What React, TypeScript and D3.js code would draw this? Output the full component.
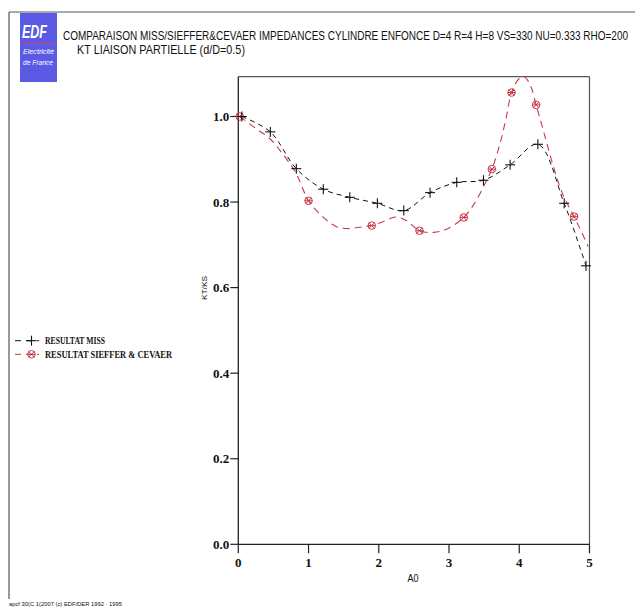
import React from 'react';
import * as d3 from 'd3';

// RESULTAT MISS (markers at every point)
const missA0 = [0.05, 0.456, 0.826, 1.21, 1.587, 1.98, 2.356, 2.73, 3.11, 3.49, 3.87, 4.265, 4.64, 4.95];
const missKT = [1.0, 0.964, 0.878, 0.83, 0.811, 0.797, 0.78, 0.822, 0.846, 0.851, 0.887, 0.935, 0.797, 0.651];

// RESULTAT SIEFFER & CEVAER (curve read densely)
const sieffA0 = [0.02, 0.25, 0.45, 0.62, 0.82, 1.0, 1.2, 1.39, 1.55, 1.72, 1.9, 2.06, 2.24, 2.39, 2.58, 2.78, 2.97, 3.21, 3.37, 3.51, 3.61, 3.73, 3.82, 3.89, 3.99, 4.07, 4.16, 4.24, 4.35, 4.47, 4.61, 4.78, 4.89, 4.98];
const sieffKT = [1.0, 0.972, 0.948, 0.915, 0.868, 0.803, 0.766, 0.743, 0.738, 0.741, 0.745, 0.754, 0.765, 0.757, 0.733, 0.729, 0.737, 0.764, 0.799, 0.842, 0.877, 0.939, 1.002, 1.056, 1.087, 1.093, 1.072, 1.027, 0.963, 0.892, 0.822, 0.766, 0.729, 0.696];
// marker positions on the SIEFFER & CEVAER curve
const sieffMarkA0 = [0.02, 1.0, 1.9, 2.58, 3.21, 3.61, 3.89, 4.24, 4.78];
const sieffMarkKT = [1.0, 0.803, 0.745, 0.733, 0.764, 0.877, 1.056, 1.027, 0.766];

const xTicks = [0, 1, 2, 3, 4, 5];
const yTicks = [0, 0.2, 0.4, 0.6, 0.8, 1.0];

const titleLine1 = 'COMPARAISON MISS/SIEFFER&CEVAER IMPEDANCES CYLINDRE ENFONCE D=4 R=4 H=8 VS=330 NU=0.333 RHO=200';
const titleLine2 = 'KT LIAISON PARTIELLE (d/D=0.5)';
const legendLabels = ['RESULTAT MISS', 'RESULTAT SIEFFER & CEVAER'];
const footer = 'apcf 30(C 1(2007 (c) EDF/DER 1992 · 1995';

const RED = '#c8384a';
const BLK = '#111';

function Plus({ cx, cy, color }: { cx: number; cy: number; color: string }) {
  return (
    <g stroke={color} strokeWidth={1.1}>
      <line x1={cx - 5} x2={cx + 5} y1={cy} y2={cy} />
      <line x1={cx} x2={cx} y1={cy - 5} y2={cy + 5} />
    </g>
  );
}

function CircX({ cx, cy, color }: { cx: number; cy: number; color: string }) {
  const r = 3.8;
  const d = 2.7;
  return (
    <g stroke={color} strokeWidth={1} fill="none">
      <circle cx={cx} cy={cy} r={r} />
      <line x1={cx - d} x2={cx + d} y1={cy - d} y2={cy + d} />
      <line x1={cx - d} x2={cx + d} y1={cy + d} y2={cy - d} />
      <line x1={cx - r} x2={cx + r} y1={cy} y2={cy} />
    </g>
  );
}

export default function App() {
  const yMax = d3.max(sieffKT) as number;
  const x = d3.scaleLinear().domain([0, 5]).range([238.3, 589.5]);
  const y = d3.scaleLinear().domain([0, yMax]).range([544.3, 76.7]);

  const line = d3
    .line<[number, number]>()
    .x((d) => x(d[0]))
    .y((d) => y(d[1]))
    .curve(d3.curveCatmullRom.alpha(0.5));

  const missPts: [number, number][] = missA0.map((a, i) => [a, missKT[i]]);
  const sieffPts: [number, number][] = sieffA0.map((a, i) => [a, sieffKT[i]]);

  const tickFont = { fontFamily: '"Liberation Serif", "DejaVu Serif", serif', fontWeight: 700, fontSize: 13 };
  const [x0, x1] = x.range();
  const [y0, y1] = y.range();

  return (
    <svg width={635} height={610} style={{ position: 'absolute', left: 0, top: 0, background: '#fff' }}>
      {/* outer frame */}
      <line x1={9} x2={9} y1={12} y2={599} stroke="#555" strokeWidth={1.2} />
      <line x1={9} x2={635} y1={12} y2={12} stroke="#555" strokeWidth={1.2} />

      {/* logo */}
      <rect x={20} y={13} width={37} height={69} fill="#5a5ae4" />
      <text x={22} y={38} fill="#fff" fontFamily="Liberation Sans, Arial, sans-serif" fontStyle="italic" fontWeight={700} fontSize={18} textLength={25} lengthAdjust="spacingAndGlyphs">EDF</text>
      <line x1={21} x2={56} y1={43.5} y2={43.5} stroke="#d04060" strokeWidth={1} />
      <text x={23} y={54} fill="#fff" fontFamily="Liberation Sans, Arial, sans-serif" fontStyle="italic" fontSize={7} textLength={31} lengthAdjust="spacingAndGlyphs">Electricité</text>
      <text x={23} y={65} fill="#fff" fontFamily="Liberation Sans, Arial, sans-serif" fontStyle="italic" fontSize={7} textLength={30} lengthAdjust="spacingAndGlyphs">de France</text>

      {/* titles */}
      <text transform="translate(63,40) scale(1,1.25)" fill="#111" fontFamily="Liberation Sans, Arial, sans-serif" fontSize={10} textLength={565} lengthAdjust="spacingAndGlyphs">{titleLine1}</text>
      <text transform="translate(77,54) scale(1,1.25)" fill="#111" fontFamily="Liberation Sans, Arial, sans-serif" fontSize={10} textLength={168} lengthAdjust="spacingAndGlyphs">{titleLine2}</text>

      {/* plot box */}
      <line x1={x1} x2={x1} y1={y1} y2={y0} stroke="#555" strokeWidth={1.2} />
      <line x1={x0} x2={x1} y1={y1} y2={y1} stroke="#555" strokeWidth={1.2} />
      <line x1={x0} x2={x0} y1={y1} y2={y0} stroke="#222" strokeWidth={1.3} />
      <line x1={x0} x2={x1} y1={y0} y2={y0} stroke="#222" strokeWidth={1.3} />

      {/* y ticks */}
      {yTicks.map((t) => (
        <g key={'y' + t}>
          <line x1={x0 - 8} x2={x0} y1={y(t)} y2={y(t)} stroke="#222" strokeWidth={1.2} />
          <text x={x0 - 9} y={y(t) + 4.5} textAnchor="end" fill="#111" {...tickFont}>{d3.format('.1f')(t)}</text>
        </g>
      ))}
      {/* x ticks */}
      {xTicks.map((t) => (
        <g key={'x' + t}>
          <line x1={x(t)} x2={x(t)} y1={y0} y2={y0 + 9} stroke="#222" strokeWidth={1.2} />
          <text x={x(t)} y={567} textAnchor="middle" fill="#111" {...tickFont}>{t}</text>
        </g>
      ))}
      <text x={413} y={582} textAnchor="middle" fill="#111" fontFamily="Liberation Sans, Arial, sans-serif" fontSize={10} textLength={11} lengthAdjust="spacingAndGlyphs">A0</text>
      <text transform="translate(207,288) rotate(-90)" textAnchor="middle" fill="#111" fontFamily="Liberation Sans, Arial, sans-serif" fontSize={8} textLength={24} lengthAdjust="spacingAndGlyphs">KT/KS</text>

      {/* curves */}
      <path d={line(sieffPts) || ''} fill="none" stroke={RED} strokeWidth={1.1} strokeDasharray="7,5" />
      <path d={line(missPts) || ''} fill="none" stroke={BLK} strokeWidth={1} strokeDasharray="5,4" />
      {sieffMarkA0.map((a, i) => (
        <CircX key={'r' + i} cx={x(a)} cy={y(sieffMarkKT[i])} color={RED} />
      ))}
      {missA0.map((a, i) => (
        <Plus key={'b' + i} cx={x(a)} cy={y(missKT[i])} color={BLK} />
      ))}

      {/* legend */}
      <line x1={15} x2={39} y1={340.7} y2={340.7} stroke={BLK} strokeWidth={1} strokeDasharray="6,5" />
      <Plus cx={31.5} cy={340.7} color={BLK} />
      <text x={45} y={344} fill="#111" fontFamily='"Liberation Serif", serif' fontWeight={700} fontSize={9.5} textLength={60} lengthAdjust="spacingAndGlyphs">{legendLabels[0]}</text>
      <line x1={15} x2={39} y1={354.3} y2={354.3} stroke={RED} strokeWidth={1} strokeDasharray="6,5" />
      <CircX cx={31.5} cy={354.3} color={RED} />
      <text x={45} y={357.6} fill="#111" fontFamily='"Liberation Serif", serif' fontWeight={700} fontSize={9.5} textLength={127} lengthAdjust="spacingAndGlyphs">{legendLabels[1]}</text>

      {/* footer */}
      <text x={9} y={606} fill="#111" fontFamily="Liberation Sans, Arial, sans-serif" fontSize={6} textLength={113} lengthAdjust="spacingAndGlyphs">{footer}</text>
    </svg>
  );
}
